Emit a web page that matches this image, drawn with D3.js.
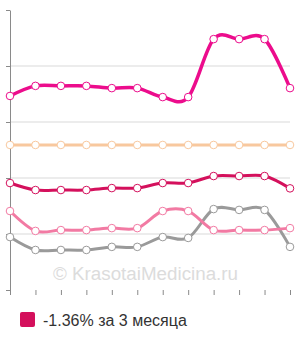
<!DOCTYPE html>
<html>
<head>
<meta charset="utf-8">
<script src="https://cdn.jsdelivr.net/npm/d3@7"></script>
<style>
  body { margin: 0; background: #fff; }
  svg { display: block; font-family: "Liberation Sans", Arial, sans-serif; }
</style>
</head>
<body>
<div id="chart"></div>
<script>
// months (12 points), values in arbitrary units
const months = ["1", "2", "3", "4", "5", "6", "7", "8", "9", "10", "11", "12"];
const yTicks = [0, 20, 40, 60, 80, 100];

const magenta = [69.3, 72.9, 72.9, 72.9, 72.1, 72.1, 68.9, 68.9, 89.6, 89.6, 89.6, 72.1];
const orange  = [51.8, 51.8, 51.8, 51.8, 51.8, 51.8, 51.8, 51.8, 51.8, 51.8, 51.8, 51.8];
const crimson = [38.2, 35.7, 35.7, 35.7, 36.4, 36.4, 38.2, 38.2, 40.7, 40.7, 40.7, 36.3];
const pink    = [28.2, 21.1, 21.4, 21.4, 22.1, 22.1, 28.2, 28.2, 21.4, 21.4, 21.4, 22.1];
const grey    = [18.9, 14.3, 14.3, 14.3, 15.4, 15.4, 18.9, 18.6, 28.9, 28.6, 28.6, 15.4];

const legendLabel = "-1.36% за 3 месяца";

const series = [
    { values: orange,  color: "#f8c89e", width: 3 },
    { values: grey,    color: "#9a9a9a", width: 3 },
    { values: pink,    color: "#f27aa3", width: 3 },
    { values: crimson, color: "#d4105c", width: 3 },
    { values: magenta, color: "#ec0c8c", width: 3.5 }
];

const W = 300, H = 340;
const margin = { top: 10, right: 10, bottom: 50, left: 10 };
const width = W - margin.left - margin.right,
      height = H - margin.top - margin.bottom;

const svg = d3.select("#chart").append("svg")
    .attr("width", W)
    .attr("height", H);

const g = svg.append("g")
    .attr("transform", "translate(" + margin.left + "," + margin.top + ")");

const x = d3.scalePoint().domain(months).range([0, width]),
      y = d3.scaleLinear().domain([0, 100]).range([height, 0]);

// grid lines
g.append("g")
    .selectAll("line")
    .data(yTicks.slice(1, -1))
    .enter().append("line")
    .attr("x1", 0).attr("x2", width)
    .attr("y1", d => y(d)).attr("y2", d => y(d))
    .attr("stroke", "#d9d9d9")
    .attr("stroke-width", 1);

// watermark
g.append("text")
    .attr("x", 43)
    .attr("y", 270)
    .attr("font-size", 18.8)
    .attr("fill", "#dcdcdc")
    .text("© KrasotaiMedicina.ru");

// y axis
const yAxis = g.append("g")
    .call(d3.axisLeft(y).tickValues(yTicks).tickSize(4).tickSizeOuter(0).tickFormat(""));
yAxis.select(".domain").attr("stroke", "#8a8a8a");
yAxis.selectAll(".tick line").attr("stroke", "#8a8a8a");

// x ticks
const xAxis = g.append("g")
    .attr("transform", "translate(0," + height + ")")
    .call(d3.axisBottom(x).tickSize(5).tickSizeOuter(0).tickFormat(""));
xAxis.select(".domain").remove();
xAxis.selectAll(".tick line").attr("stroke", "#8a8a8a");

const line = d3.line()
    .curve(d3.curveCardinal.tension(0))
    .x((d, i) => x(months[i]))
    .y(d => y(d));

const zone = g.selectAll(".line_zone")
    .data(series)
    .enter().append("g")
    .attr("class", "line_zone");

zone.append("path")
    .attr("d", d => line(d.values))
    .attr("fill", "none")
    .attr("stroke", d => d.color)
    .attr("stroke-width", d => d.width)
    .attr("stroke-linejoin", "round");

zone.each(function(s) {
    d3.select(this).selectAll("circle")
        .data(s.values)
        .enter().append("circle")
        .attr("cx", (d, i) => x(months[i]))
        .attr("cy", d => y(d))
        .attr("r", 3.8)
        .attr("fill", "#fff")
        .attr("stroke", s.color)
        .attr("stroke-width", 1);
});

// legend
const legend = svg.append("g").attr("transform", "translate(20,312)");
legend.append("rect")
    .attr("width", 15).attr("height", 15)
    .attr("rx", 2)
    .attr("fill", "#d4105c");
legend.append("text")
    .attr("x", 23)
    .attr("y", 14)
    .attr("font-size", 16)
    .attr("fill", "#333")
    .text(legendLabel);
</script>
</body>
</html>
